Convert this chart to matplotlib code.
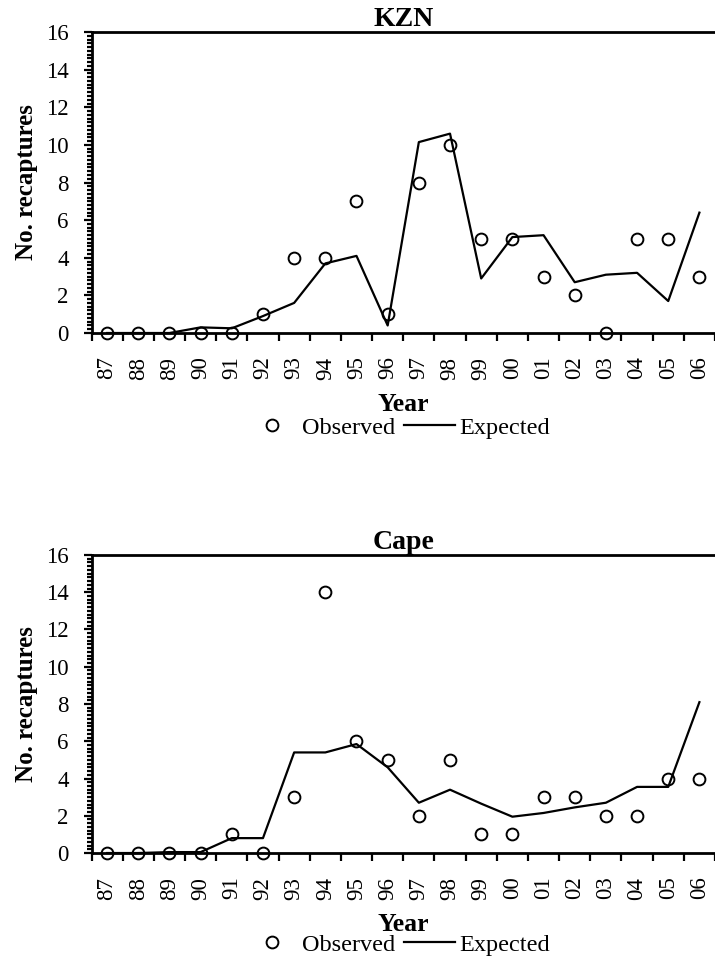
import numpy as np
import matplotlib.pyplot as plt
from matplotlib.ticker import MultipleLocator, FixedLocator

years = ['87', '88', '89', '90', '91', '92', '93', '94', '95', '96',
         '97', '98', '99', '00', '01', '02', '03', '04', '05', '06']

kzn_observed = [0, 0, 0, 0, 0, 1, 4, 4, 7, 1, 8, 10, 5, 5, 3, 2, 0, 5, 5, 3]
kzn_expected = [0, 0, 0, 0.3, 0.25, 0.9, 1.6, 3.7, 4.1, 0.4, 10.15, 10.6,
                2.9, 5.1, 5.2, 2.7, 3.1, 3.2, 1.7, 6.4]

cape_observed = [0, 0, 0, 0, 1, 0, 3, 14, 6, 5, 2, 5, 1, 1, 3, 3, 2, 2, 4, 4]
cape_expected = [0, 0, 0.05, 0.05, 0.8, 0.8, 5.4, 5.4, 5.85, 4.6, 2.7, 3.4,
                 2.65, 1.95, 2.15, 2.45, 2.7, 3.55, 3.55, 8.1]

plt.rcParams['font.family'] = ['Liberation Serif', 'DejaVu Serif']

fig = plt.figure(figsize=(7.15, 9.63), dpi=100)

panels = [
    ('KZN', kzn_observed, kzn_expected, [0.128, 0.6542, 0.872, 0.3125], 0.5556),
    ('Cape', cape_observed, cape_expected, [0.128, 0.1142, 0.872, 0.3095], 0.0187),
]

x = np.arange(len(years))

for title, obs, exp, rect, leg_y in panels:
    ax = fig.add_axes(rect)
    ax.plot(x, obs, linestyle='none', marker='o', markersize=8.5,
            markerfacecolor='none', markeredgecolor='black',
            markeredgewidth=1.4, label='Observed', clip_on=False, zorder=3)
    ax.plot(x, exp, color='black', linewidth=1.6, label='Expected',
            clip_on=False, zorder=2)

    ax.set_xlim(-0.5, len(years) - 0.5)
    ax.set_ylim(0, 16)

    # y axis: majors every 2, dense minor ticks
    ax.yaxis.set_major_locator(MultipleLocator(2))
    ax.yaxis.set_minor_locator(MultipleLocator(0.2))
    ax.tick_params(axis='y', which='major', direction='out', length=5.5,
                   width=1.6, labelsize=16.5, pad=11)
    ax.tick_params(axis='y', which='minor', direction='out', length=3.5,
                   width=1.6)

    # x axis: labels at categories, tick marks between them
    ax.set_xticks(x)
    ax.set_xticklabels(years, rotation=90)
    ax.xaxis.set_minor_locator(FixedLocator(np.arange(-0.5, len(years), 1)))
    ax.tick_params(axis='x', which='major', length=0, labelsize=16.5, pad=17)
    ax.tick_params(axis='x', which='minor', direction='out', length=5.5,
                   width=1.6)

    for side in ['left', 'bottom', 'top']:
        ax.spines[side].set_linewidth(2.0)
    ax.spines['right'].set_visible(False)

    ax.set_title(title, fontsize=20, fontweight='bold', pad=3)
    ax.set_ylabel('No. recaptures', fontsize=18, fontweight='bold')
    ax.yaxis.set_label_coords(-0.086, 0.5)
    ax.set_xlabel('Year', fontsize=18.5, fontweight='bold')
    ax.xaxis.set_label_coords(0.5, -0.2)

    ax.legend(loc='center', bbox_to_anchor=(0.557, leg_y),
              bbox_transform=fig.transFigure, ncol=2, frameon=False,
              fontsize=17.5, handlelength=2.1, handletextpad=0.2,
              columnspacing=0.35, borderaxespad=0, borderpad=0)

fig.savefig('out.png', dpi=100)
